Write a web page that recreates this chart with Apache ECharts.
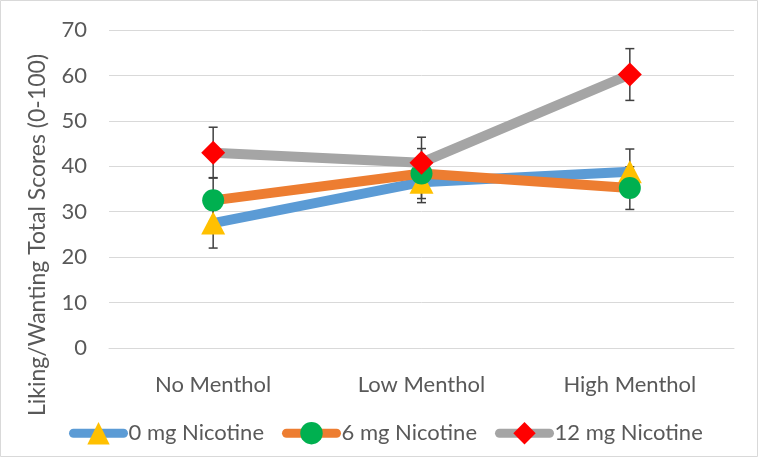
<!DOCTYPE html>
<html>
<head>
<meta charset="utf-8">
<script src="https://cdn.jsdelivr.net/npm/echarts@6/dist/echarts.min.js"></script>
<style>
html,body{margin:0;padding:0;background:#fff;}
#chart{width:758px;height:459px;}
</style>
</head>
<body>
<div id="chart"></div>
<script>
var categories = ['No Menthol', 'Low Menthol', 'High Menthol'];
var names = ['0 mg Nicotine', '6 mg Nicotine', '12 mg Nicotine'];
var values0 = [27.5, 36.5, 38.8];
var values6 = [32.5, 38.4, 35.2];
var values12 = [43.0, 40.8, 60.2];
var errors0 = [5.5, 4.5, 5.0];
var errors6 = [5.0, 5.5, 4.7];
var errors12 = [5.6, 5.6, 5.7];
var yTicks = [0, 10, 20, 30, 40, 50, 60, 70];
var yTitle = 'Liking/Wanting Total Scores (0-100)';

var lineColors = ['#5B9BD5', '#ED7D31', '#A5A5A5'];
var markerColors = ['#FFC000', '#00B050', '#FF0000'];
var symbols = ['triangle', 'circle', 'diamond'];
var symbolSizes = [[24, 23], 22, [24, 24]];
var allValues = [values0, values6, values12];
var allErrors = [errors0, errors6, errors12];

var font = 'Lato, "Liberation Sans", sans-serif';
var series = [];

allValues.forEach(function (vals, s) {
  var errData = vals.map(function (v, i) { return [i, v - allErrors[s][i], v + allErrors[s][i]]; });
  series.push({
    type: 'custom',
    name: 'err' + s,
    z: 1,
    silent: true,
    data: errData,
    renderItem: function (params, api) {
      var x = api.value(0);
      var lo = api.coord([x, api.value(1)]);
      var hi = api.coord([x, api.value(2)]);
      var hw = 4.5;
      var st = { stroke: '#404040', lineWidth: 1.5 };
      return {
        type: 'group',
        children: [
          { type: 'line', shape: { x1: lo[0], y1: lo[1], x2: hi[0], y2: hi[1] }, style: st },
          { type: 'line', shape: { x1: lo[0] - hw, y1: lo[1], x2: lo[0] + hw, y2: lo[1] }, style: st },
          { type: 'line', shape: { x1: hi[0] - hw, y1: hi[1], x2: hi[0] + hw, y2: hi[1] }, style: st }
        ]
      };
    }
  });
});

allValues.forEach(function (vals, s) {
  series.push({
    type: 'line',
    name: names[s],
    z: 2 + s,
    data: vals,
    symbol: symbols[s],
    symbolSize: symbolSizes[s],
    showAllSymbol: true,
    lineStyle: { color: lineColors[s], width: 10, cap: 'round' },
    itemStyle: { color: markerColors[s], borderWidth: 0 },
    emphasis: { disabled: true }
  });
});

var chart = echarts.init(document.getElementById('chart'));
chart.setOption({
  animation: false,
  backgroundColor: '#fff',
  textStyle: { fontFamily: font },
  graphic: [{
    type: 'rect',
    shape: { x: 0.5, y: 0.5, width: 757, height: 456 },
    style: { fill: 'none', stroke: '#d9d9d9', lineWidth: 1 },
    silent: true
  }, {
    type: 'text',
    x: 38,
    y: 235,
    rotation: Math.PI / 2,
    silent: true,
    style: {
      text: yTitle,
      fontFamily: font,
      fontSize: 23,
      fill: '#595959',
      align: 'center',
      verticalAlign: 'middle'
    }
  }],
  grid: { left: 109, right: 24, top: 30, bottom: 111 },
  legend: {
    data: names.map(function (n, i) {
      return { name: n, itemStyle: { color: markerColors[i] }, lineStyle: { color: lineColors[i], width: 9 } };
    }),
    top: 417,
    left: 64,
    itemWidth: 50,
    itemHeight: 28,
    itemGap: 18,
    textStyle: { fontFamily: font, fontSize: 22, color: '#595959' }
  },
  xAxis: {
    type: 'category',
    data: categories,
    axisTick: { show: false },
    axisLine: { lineStyle: { color: '#d9d9d9', width: 1 } },
    axisLabel: { fontFamily: font, fontSize: 22, color: '#595959', margin: 26 }
  },
  yAxis: {
    type: 'value',
    min: yTicks[0],
    max: yTicks[yTicks.length - 1],
    interval: 10,
    axisLine: { show: false },
    axisTick: { show: false },
    axisLabel: { fontFamily: font, fontSize: 22, color: '#595959', margin: 22 },
    splitLine: { lineStyle: { color: '#d9d9d9', width: 1 } }
  },
  series: series
});
</script>
</body>
</html>
